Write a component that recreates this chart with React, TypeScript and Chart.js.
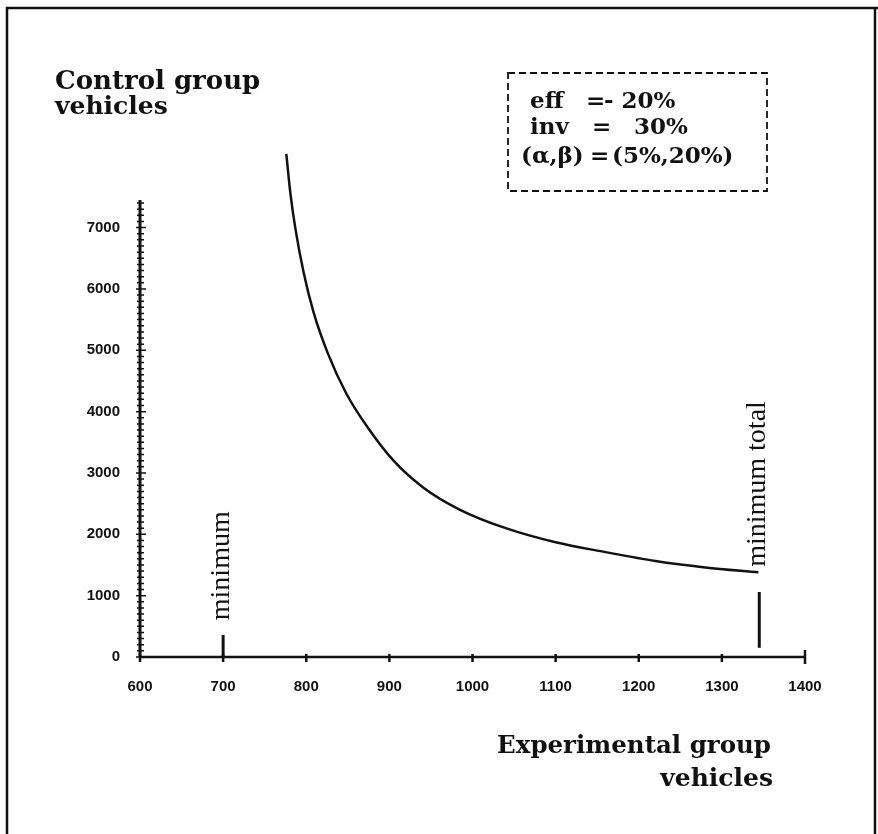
import React, { useEffect, useRef } from "react";
import { Chart, registerables } from "chart.js";

Chart.register(...registerables);

// Experimental group vehicles (x) vs control group vehicles (y)
const experimentalVehicles = [776, 781, 787, 797, 809, 826, 848, 874, 905, 941, 985, 1040, 1100, 1160, 1220, 1280, 1344];
const controlVehicles = [8200, 7550, 6980, 6260, 5610, 4950, 4300, 3740, 3200, 2760, 2400, 2100, 1870, 1710, 1565, 1460, 1380];

const xMin = 600;
const xMax = 1400;
const xTicks = [600, 700, 800, 900, 1000, 1100, 1200, 1300, 1400];
const yMin = 0;
const yMax = 7450;
const yTicks = [0, 1000, 2000, 3000, 4000, 5000, 6000, 7000];
const yMinorStep = 100;

// vertical marker segments
const markerLabels = ["minimum", "minimum total"];
const markerX = [700, 1345];
const markerYFrom = [0, 150];
const markerYTo = [360, 1060];
const markerLabelY = [600, 1470];

const infoNames = ["eff", "inv", "(α,β)"];
const infoEquals = ["=", "=", "="];
const infoValues = ["- 20%", "30%", "(5%,20%)"];

const yTitle = ["Control group", "vehicles"];
const xTitle = ["Experimental group", "vehicles"];

const decorPlugin = {
  id: "decor",
  afterDraw(chart: any) {
    const ctx = chart.ctx as CanvasRenderingContext2D;
    const xs = chart.scales.x;
    const ys = chart.scales.y;
    ctx.save();
    ctx.strokeStyle = "#111";
    ctx.fillStyle = "#111";

    // outer frame (no bottom edge)
    ctx.lineWidth = 2.5;
    ctx.beginPath();
    ctx.moveTo(7, 834);
    ctx.lineTo(7, 8);
    ctx.lineTo(878, 8);
    ctx.moveTo(875, 8);
    ctx.lineTo(875, 834);
    ctx.stroke();

    const x0 = xs.getPixelForValue(xMin);
    const x1 = xs.getPixelForValue(xMax);
    const y0 = ys.getPixelForValue(yMin);
    const y1 = ys.getPixelForValue(yMax);

    // y axis line + minor ticks
    ctx.lineWidth = 3;
    ctx.beginPath();
    ctx.moveTo(x0, y0);
    ctx.lineTo(x0, y1);
    ctx.stroke();
    ctx.lineWidth = 1.5;
    ctx.beginPath();
    for (let v = yMin; v <= yMax; v += yMinorStep) {
      const p = ys.getPixelForValue(v);
      const major = v % 1000 === 0;
      ctx.moveTo(x0 - (major ? 4 : 3), p);
      ctx.lineTo(x0 + (major ? 6 : 4), p);
    }
    ctx.stroke();

    // x axis line + ticks
    ctx.lineWidth = 2.5;
    ctx.beginPath();
    ctx.moveTo(x0, y0);
    ctx.lineTo(x1, y0);
    ctx.stroke();
    ctx.beginPath();
    for (const v of xTicks) {
      const p = xs.getPixelForValue(v);
      const end = v === xMax;
      ctx.moveTo(p, y0 - (end ? 7 : 3));
      ctx.lineTo(p, y0 + (end ? 7 : 5));
    }
    ctx.stroke();

    // marker segments + rotated labels
    ctx.lineWidth = 3;
    ctx.font = "28px 'Liberation Serif'";
    ctx.textBaseline = "alphabetic";
    ctx.textAlign = "left";
    for (let i = 0; i < markerLabels.length; i++) {
      const px = xs.getPixelForValue(markerX[i]);
      ctx.beginPath();
      ctx.moveTo(px, ys.getPixelForValue(markerYFrom[i]));
      ctx.lineTo(px, ys.getPixelForValue(markerYTo[i]));
      ctx.stroke();
      ctx.save();
      ctx.translate(px + 6, ys.getPixelForValue(markerLabelY[i]));
      ctx.rotate(-Math.PI / 2);
      ctx.fillText(markerLabels[i], 0, 0);
      ctx.restore();
    }

    // axis titles
    ctx.textAlign = "left";
    ctx.font = "bold 26px 'DejaVu Serif'";
    ctx.fillText(yTitle[0], 55, 89);
    ctx.font = "bold 25px 'DejaVu Serif'";
    ctx.fillText(yTitle[1], 55, 114);
    ctx.textAlign = "right";
    ctx.font = "bold 24.5px 'DejaVu Serif'";
    ctx.fillText(xTitle[0], 771, 753);
    ctx.font = "bold 25px 'DejaVu Serif'";
    ctx.fillText(xTitle[1], 773, 786);

    // info box
    ctx.setLineDash([7, 4]);
    ctx.lineWidth = 1.8;
    ctx.strokeRect(508, 73, 259, 118);
    ctx.setLineDash([]);
    ctx.font = "bold 23px 'DejaVu Serif'";
    ctx.textAlign = "left";
    const rows = [108, 134, 163];
    const nameX = [530, 530, 521];
    const eqX = [586, 592, 590];
    const valX = [604, 634, 612];
    for (let i = 0; i < infoNames.length; i++) {
      ctx.fillText(infoNames[i], nameX[i], rows[i]);
      ctx.fillText(infoEquals[i], eqX[i], rows[i]);
      ctx.fillText(infoValues[i], valX[i], rows[i]);
    }
    ctx.restore();
  },
};

export default function App() {
  const ref = useRef<HTMLCanvasElement | null>(null);
  useEffect(() => {
    if (!ref.current) return;
    const chart = new Chart(ref.current, {
      type: "scatter",
      data: {
        datasets: [
          {
            data: experimentalVehicles.map((x, i) => ({ x, y: controlVehicles[i] })),
            showLine: true,
            borderColor: "#111",
            borderWidth: 2.5,
            pointRadius: 0,
            cubicInterpolationMode: "monotone",
            clip: false,
          } as any,
        ],
      },
      options: {
        responsive: false,
        animation: false,
        layout: { padding: { left: 0, top: 200, right: 73, bottom: 0 } },
        plugins: { legend: { display: false }, tooltip: { enabled: false } },
        scales: {
          x: {
            type: "linear",
            min: xMin,
            max: xMax,
            grid: { display: false },
            border: { display: false },
            afterBuildTicks: (s: any) => {
              s.ticks = xTicks.map((value) => ({ value }));
            },
            ticks: {
              color: "#111",
              padding: 13,
              maxRotation: 0,
              autoSkip: false,
              callback: (v: any) => String(v),
              font: { family: "'Liberation Sans'", weight: "bold", size: 15 },
            },
            afterFit: (s: any) => {
              s.height = 177;
            },
          },
          y: {
            type: "linear",
            min: yMin,
            max: yMax,
            grid: { display: false },
            border: { display: false },
            afterBuildTicks: (s: any) => {
              s.ticks = yTicks.map((value) => ({ value }));
            },
            ticks: {
              color: "#111",
              padding: 12,
              autoSkip: false,
              callback: (v: any) => String(v),
              font: { family: "'Liberation Sans'", weight: "bold", size: 15 },
            },
            afterFit: (s: any) => {
              s.width = 140;
            },
          },
        },
      },
      plugins: [decorPlugin],
    });
    return () => chart.destroy();
  }, []);
  return (
    <div style={{ position: "fixed", left: 0, top: 0, width: 878, height: 834, background: "#fff" }}>
      <canvas ref={ref} width={878} height={834} style={{ display: "block" }} />
    </div>
  );
}
